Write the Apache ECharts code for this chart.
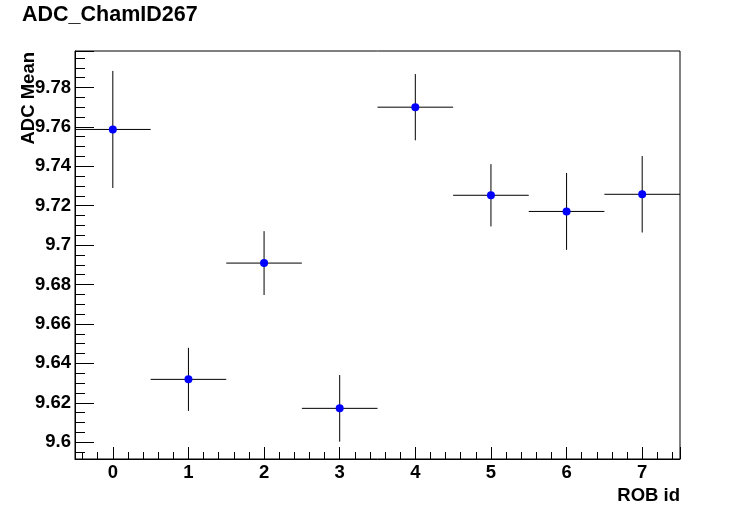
<!DOCTYPE html>
<html>
<head>
<meta charset="utf-8">
<script src="https://cdn.jsdelivr.net/npm/echarts@6/dist/echarts.min.js"></script>
<style>
html,body{margin:0;padding:0;background:#fff;}
#main{width:756px;height:511px;}
</style>
</head>
<body>
<div id="main"></div>
<script>
// ---- data ----
var chartTitle = 'ADC_ChamID267';
var xTitle = 'ROB id';
var yTitle = 'ADC Mean';
var robIds = [0, 1, 2, 3, 4, 5, 6, 7];
var means  = [9.7587, 9.6319, 9.6909, 9.6172, 9.7700, 9.7253, 9.7171, 9.7258];
var errors = [0.0297, 0.0160, 0.0162, 0.0169, 0.0168, 0.0158, 0.0195, 0.0194];
var binHalfWidth = [0.5, 0.5, 0.5, 0.5, 0.5, 0.5, 0.5, 0.5];
var xRange = [-0.5, 7.5];
var yRange = [9.5915, 9.7985];

var FONT = 'Liberation Sans, Arial, Helvetica, sans-serif';

var errData = robIds.map(function (x, i) { return [x, means[i], errors[i], binHalfWidth[i]]; });
var ptData = robIds.map(function (x, i) { return [x, means[i]]; });

var chart = echarts.init(document.getElementById('main'), null, { renderer: 'canvas' });
chart.setOption({
  backgroundColor: '#fff',
  animation: false,
  title: {
    text: chartTitle,
    left: 22, top: 4, padding: 0,
    textStyle: { fontFamily: FONT, fontWeight: 'bold', fontSize: 21.5, color: '#000' }
  },
  grid: {
    left: 75, right: 76, top: 51, bottom: 52,
    show: true, borderColor: '#000', borderWidth: 1, backgroundColor: 'transparent'
  },
  xAxis: {
    type: 'value',
    min: xRange[0], max: xRange[1],
    splitNumber: 8,
    axisLine: { show: true, onZero: false, lineStyle: { color: '#000', width: 1 } },
    axisTick: { show: true, inside: true, length: 12, lineStyle: { color: '#000' } },
    minorTick: { show: true, splitNumber: 5, length: 7, lineStyle: { color: '#000' } },
    splitLine: { show: false },
    axisLabel: {
      showMinLabel: false, showMaxLabel: false,
      margin: 4,
      fontFamily: FONT, fontWeight: 'bold', fontSize: 18.5, color: '#000'
    }
  },
  yAxis: {
    type: 'value',
    min: yRange[0], max: yRange[1],
    splitNumber: 10,
    axisLine: { show: true, onZero: false, lineStyle: { color: '#000', width: 1 } },
    axisTick: { show: true, inside: true, length: 19, lineStyle: { color: '#000' } },
    minorTick: { show: true, splitNumber: 4, length: 10, lineStyle: { color: '#000' } },
    splitLine: { show: false },
    axisLabel: {
      showMinLabel: false, showMaxLabel: false,
      margin: 4,
      fontFamily: FONT, fontWeight: 'bold', fontSize: 18.5, color: '#000',
      formatter: function (v) { return String(parseFloat(v.toFixed(4))); }
    }
  },
  graphic: [
    {
      type: 'text', x: 680, y: 486,
      style: { text: xTitle, font: 'bold 18.5px ' + FONT, fill: '#000', textAlign: 'right', textVerticalAlign: 'top' }
    },
    {
      type: 'text', x: 38, y: 52, rotation: Math.PI / 2,
      style: { text: yTitle, font: 'bold 18.5px ' + FONT, fill: '#000', textAlign: 'right', textVerticalAlign: 'bottom' }
    }
  ],
  series: [
    {
      type: 'custom',
      data: errData,
      z: 2,
      renderItem: function (params, api) {
        var x = api.value(0), y = api.value(1), e = api.value(2), h = api.value(3);
        var pL = api.coord([x - h, y]), pR = api.coord([x + h, y]);
        var pT = api.coord([x, y + e]), pB = api.coord([x, y - e]);
        var st = { stroke: '#000', lineWidth: 1 };
        return {
          type: 'group',
          children: [
            { type: 'line', shape: { x1: pL[0], y1: pL[1], x2: pR[0], y2: pR[1] }, style: st },
            { type: 'line', shape: { x1: pT[0], y1: pT[1], x2: pB[0], y2: pB[1] }, style: st }
          ]
        };
      }
    },
    {
      type: 'scatter',
      data: ptData,
      z: 3,
      symbol: 'circle',
      symbolSize: 8,
      itemStyle: { color: '#0000ff', opacity: 1 }
    }
  ]
});
</script>
</body>
</html>
